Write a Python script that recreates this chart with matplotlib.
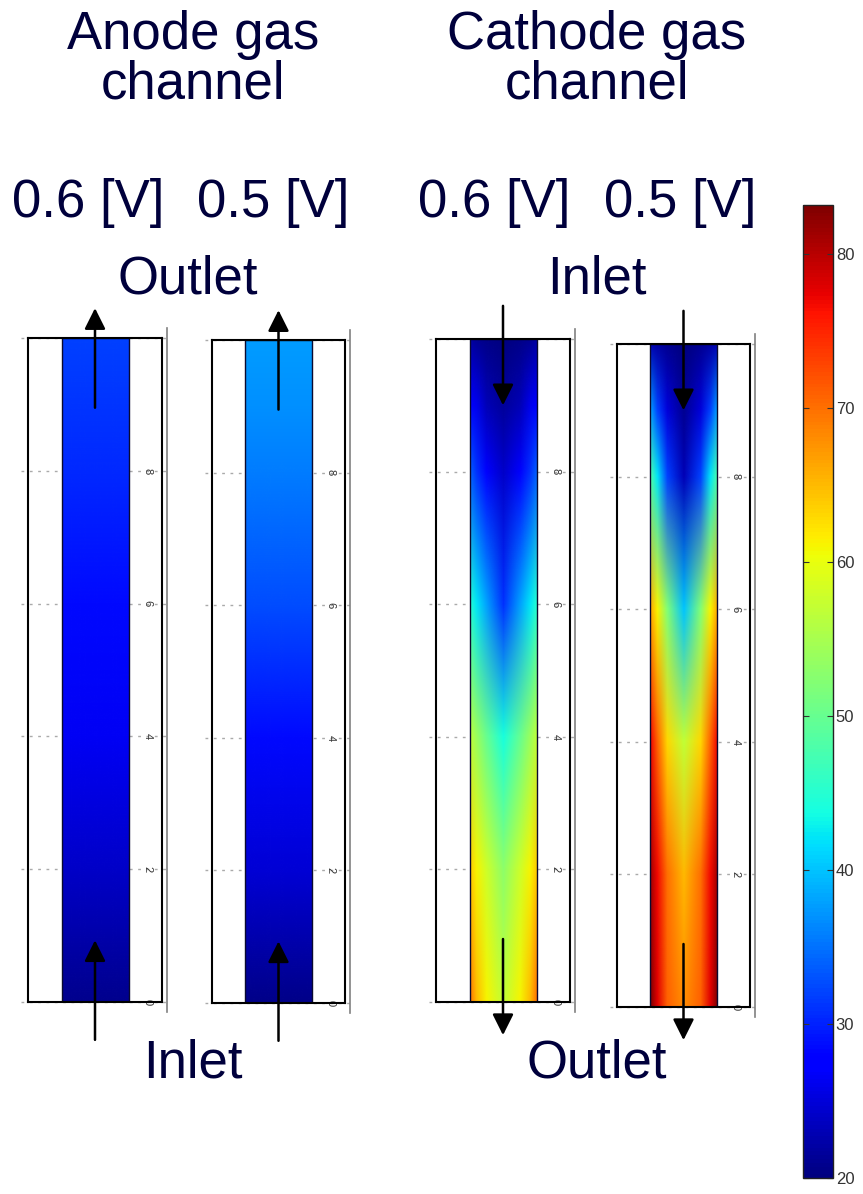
import numpy as np
import matplotlib
matplotlib.use('Agg')
import matplotlib.pyplot as plt
from matplotlib.colors import Normalize
from matplotlib.patches import Rectangle
from matplotlib.image import NonUniformImage
import matplotlib.cm as cm

W, H = 863, 1194
navy = '#00003c'
plt.rcParams['font.family'] = ['Liberation Sans', 'DejaVu Sans']

# field values (deg C), rows at these heights
heights = [0, 2, 4, 6, 8, 9, 10]
# across half the channel: wall -> centre (fraction of channel width)
half_cols = [0.0, 0.1, 0.25, 0.5]

anode_06 = [20.8, 24.0, 26.5, 28.5, 30.5, 31.3, 32.0]
anode_05 = [20.5, 24.7, 28.6, 32.6, 35.8, 36.8, 37.6]
cathode_06 = [[70, 65, 61, 57],
              [64, 61, 58, 53],
              [57, 54, 50, 44],
              [45, 42, 38, 31],
              [34, 31, 27, 24],
              [28, 26, 23, 21.5],
              [22, 21, 20.5, 20]]
cathode_05 = [[83, 78, 71, 68],
              [81, 77, 70, 65],
              [77, 71, 63, 57],
              [66, 61, 52, 40],
              [48, 42, 32, 23],
              [38, 32, 25, 21],
              [23, 22, 21, 20]]

cb_min, cb_max = 20, 83.2
cb_ticks = [20, 30, 40, 50, 60, 70, 80]
grid_ticks = [0, 2, 4, 6, 8]

# panel boxes in pixels (left, top, right, bottom) and flow direction
panels = [
    ((28, 338, 162, 1002), 'anode', anode_06, 'up'),
    ((212, 340, 345, 1003), 'anode', anode_05, 'up'),
    ((436, 339, 570, 1002), 'cathode', cathode_06, 'down'),
    ((617, 344, 750, 1007), 'cathode', cathode_05, 'down'),
]


def rect(x0, y0, x1, y1):
    return [x0 / W, 1 - y1 / H, (x1 - x0) / W, (y1 - y0) / H]


fig = plt.figure(figsize=(W / 100, H / 100), dpi=100)
norm = Normalize(cb_min, cb_max)
cmap = plt.get_cmap('jet')

cols = np.array(half_cols)
xs = 0.5 + np.concatenate([cols, 1 - cols[-2::-1]])

for (x0, y0, x1, y1), kind, vals, flow in panels:
    ax = fig.add_axes(rect(x0, y0, x1, y1))
    ax.set_xlim(0, 2)
    ax.set_ylim(0, 10)
    ax.set_xticks([])
    ax.set_yticks([])
    for s in ax.spines.values():
        s.set_color('black')
        s.set_linewidth(1.5)
        s.set_zorder(6)

    if kind == 'anode':
        half = np.repeat(np.array(vals)[:, None], len(half_cols), axis=1)
    else:
        half = np.array(vals, dtype=float)
    field = np.hstack([half, half[:, -2::-1]])
    im = NonUniformImage(ax, interpolation='bilinear', extent=(0.5, 1.5, 0, 10),
                         cmap=cmap, norm=norm, zorder=3)
    im.set_data(xs, np.array(heights, dtype=float), field)
    ax.add_image(im)
    channel = Rectangle((0.5, 0), 1, 10, fill=False, ec='#0a0a30', lw=1, zorder=4)
    ax.add_patch(channel)
    im.set_clip_path(channel)

    # dotted grid and rotated tick labels
    for t in grid_ticks + [10]:
        ax.plot([-0.1, 2.07], [t, t], ls=(0, (2, 4)), color='#aaaaaa', lw=1,
                clip_on=False, zorder=2)
    for t in grid_ticks:
        ax.text(1.78, t, str(t), rotation=-90, ha='center', va='center',
                fontsize=8, color='#333333', zorder=5)
    ax.plot([2.07, 2.07], [-0.15, 10.15], color='#808080', lw=1.2, clip_on=False)

    arrow = dict(arrowstyle='-|>', color='black', lw=1.8, mutation_scale=32,
                 shrinkA=0, shrinkB=0)
    if flow == 'up':
        ax.annotate('', xy=(1, 0.93), xytext=(1, -0.57), arrowprops=arrow,
                    annotation_clip=False, zorder=7)
        ax.annotate('', xy=(1, 10.45), xytext=(1, 8.95), arrowprops=arrow,
                    annotation_clip=False, zorder=7)
    else:
        ax.annotate('', xy=(1, 9.0), xytext=(1, 10.5), arrowprops=arrow,
                    annotation_clip=False, zorder=7)
        ax.annotate('', xy=(1, -0.5), xytext=(1, 0.95), arrowprops=arrow,
                    annotation_clip=False, zorder=7)

# colorbar
cax = fig.add_axes(rect(803, 205, 833, 1178))
sm = cm.ScalarMappable(norm=norm, cmap=cmap)
cb = fig.colorbar(sm, cax=cax, ticks=cb_ticks)
cb.outline.set_edgecolor('#222222')
cb.outline.set_linewidth(1)
cax.tick_params(axis='y', direction='in', left=True, right=True, length=4,
                width=0.8, color='#333333', labelsize=12, labelcolor='#333333', pad=2)


def label(x, y, s, size=38):
    fig.text(x / W, 1 - y / H, s, ha='center', va='center', fontsize=size,
             color=navy, linespacing=0.98)


label(193, 60, 'Anode gas\nchannel')
label(597, 60, 'Cathode gas\nchannel')
label(88, 203, '0.6 [V]')
label(273, 203, '0.5 [V]')
label(494, 203, '0.6 [V]')
label(680, 203, '0.5 [V]')
label(188, 279, 'Outlet')
label(597, 279, 'Inlet')
label(193, 1063, 'Inlet')
label(597, 1063, 'Outlet')

fig.savefig('out.png', dpi=100, facecolor='white')
